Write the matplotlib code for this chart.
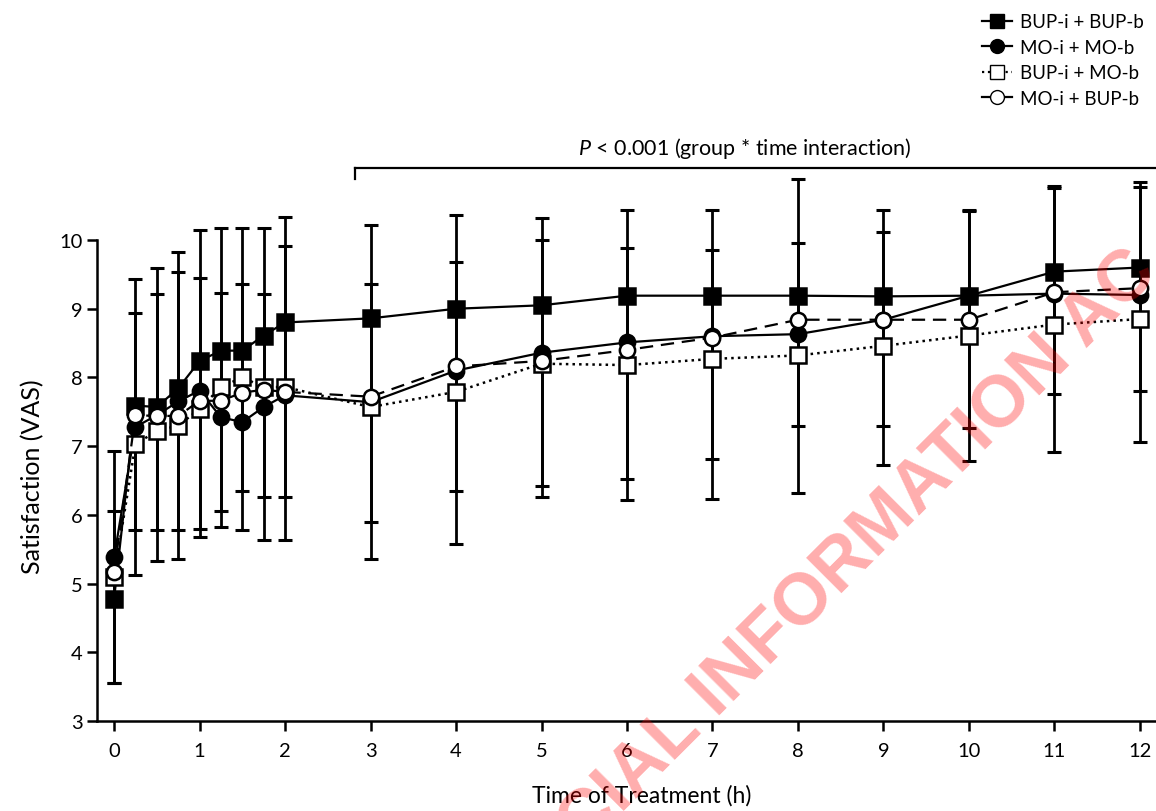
import matplotlib
matplotlib.use('Agg')
import numpy as np
import matplotlib.pyplot as plt
from matplotlib.lines import Line2D

plt.rcParams['font.family'] = ['Lato', 'DejaVu Sans']
plt.rcParams['mathtext.fontset'] = 'custom'
plt.rcParams['mathtext.rm'] = 'Lato'
plt.rcParams['mathtext.it'] = 'Lato:italic'

# Tempo de tratamento (h)
times = [0, 0.25, 0.5, 0.75, 1, 1.25, 1.5, 1.75, 2, 3, 4, 5, 6, 7, 8, 9, 10, 11, 12]

# Médias de satisfação (VAS) por grupo
bup_bup = [4.78, 7.59, 7.57, 7.84, 8.24, 8.39, 8.39, 8.61, 8.80, 8.86, 9.00, 9.05, 9.19, 9.19, 9.19, 9.18, 9.19, 9.54, 9.60]
mo_mo = [5.38, 7.28, 7.45, 7.65, 7.81, 7.42, 7.35, 7.57, 7.74, 7.64, 8.10, 8.36, 8.51, 8.60, 8.63, 8.84, 9.19, 9.22, 9.20]
bup_mo = [5.10, 7.03, 7.22, 7.30, 7.54, 7.86, 8.00, 7.86, 7.86, 7.57, 7.79, 8.20, 8.18, 8.27, 8.32, 8.46, 8.61, 8.77, 8.85]
mo_bup = [5.17, 7.45, 7.44, 7.44, 7.66, 7.66, 7.78, 7.82, 7.79, 7.72, 8.16, 8.24, 8.40, 8.58, 8.84, 8.84, 8.84, 9.24, 9.30]

# Limites das barras de erro (valores absolutos)
cap_hi_outer = [6.93, 9.44, 9.60, 9.83, 10.15, 10.18, 10.18, 10.18, 10.33, 10.22, 10.36, 10.32, 10.43, 10.43, 10.89, 10.43, 10.44, 10.79, 10.84]
cap_hi_inner = [6.05, 8.94, 9.21, 9.54, 9.45, 9.23, 9.36, 9.21, 9.92, 9.36, 9.68, 10.00, 9.88, 9.86, 9.95, 10.11, 10.42, 10.76, 10.77]
cap_lo_inner = [3.55, 5.78, 5.78, 5.78, 5.79, 6.06, 6.35, 6.26, 6.26, 5.90, 6.35, 6.42, 6.52, 6.81, 7.30, 7.30, 7.27, 7.76, 7.81]
cap_lo_outer = [3.55, 5.12, 5.33, 5.36, 5.68, 5.83, 5.78, 5.64, 5.64, 5.36, 5.58, 6.26, 6.21, 6.23, 6.32, 6.72, 6.79, 6.91, 7.06]

labels = ['BUP-i + BUP-b', 'MO-i + MO-b', 'BUP-i + MO-b', 'MO-i + BUP-b']
x_ticks = list(range(0, 13))
y_ticks = list(range(3, 11))

fig = plt.figure(figsize=(11.56, 8.12), dpi=100)
ax = fig.add_axes([97 / 1156, 90 / 812, 1060 / 1156, 570.3 / 812])

ref = np.array(bup_bup)
for lo, hi in [(cap_lo_outer, cap_hi_outer), (cap_lo_inner, cap_hi_inner)]:
    ax.errorbar(times, ref, yerr=[ref - np.array(lo), np.array(hi) - ref], fmt='none',
                ecolor='black', elinewidth=2.0, capsize=4.8, capthick=2.2, zorder=2)

estilo = dict(color='black', markersize=11, markeredgewidth=1.8, markeredgecolor='black', zorder=3)
ax.plot(times, bup_bup, '-', marker='s', markerfacecolor='black', linewidth=1.6, **estilo)
ax.plot(times, mo_mo, '-', marker='o', markerfacecolor='black', linewidth=1.6, **estilo)
ax.plot(times, bup_mo, ':', marker='s', markerfacecolor='white', linewidth=1.8, **estilo)
ax.plot(times, mo_bup, '--', marker='o', markerfacecolor='white', linewidth=1.6, dashes=(6, 3.5), **estilo)

ax.set_xlim(-0.2, 12.2)
ax.set_ylim(3, 11.3)
ax.set_xticks(x_ticks)
ax.set_yticks(y_ticks)
ax.spines['top'].set_visible(False)
ax.spines['right'].set_visible(False)
ax.spines['left'].set_bounds(3, 10)
for s in ['left', 'bottom']:
    ax.spines[s].set_linewidth(1.8)
ax.tick_params(axis='both', width=1.8, length=7, labelsize=14.5, direction='out')
ax.tick_params(axis='x', pad=8)
ax.set_xlabel('Time of Treatment (h)', fontsize=16.5)
ax.set_ylabel('Satisfaction (VAS)', fontsize=18)
ax.xaxis.set_label_coords(0.514, -0.111)
ax.yaxis.set_label_coords(-0.050, 0.431)

# Colchete da interação
ax.plot([2.82, 12.6], [11.05, 11.05], color='black', linewidth=1.6, clip_on=False)
ax.plot([2.82, 2.82], [11.05, 10.89], color='black', linewidth=1.6, clip_on=False)
ax.text(7.38, 11.25, '$P$ < 0.001 (group * time interaction)', fontsize=15.5,
        ha='center', va='baseline')

handles = [
    Line2D([], [], color='black', linestyle='-', marker='s', markerfacecolor='black', markersize=10, linewidth=1.6),
    Line2D([], [], color='black', linestyle='-', marker='o', markerfacecolor='black', markersize=10, linewidth=1.6),
    Line2D([], [], color='black', linestyle=':', marker='s', markerfacecolor='white', markersize=10, linewidth=1.6),
    Line2D([], [], color='black', linestyle='-', marker='o', markerfacecolor='white', markersize=10, linewidth=1.6),
]
fig.legend(handles, labels, loc='upper right', bbox_to_anchor=(1153 / 1156, 1 - 5 / 812),
           frameon=False, fontsize=13.5, handlelength=1.6, handletextpad=0.4,
           labelspacing=0.45, borderpad=0)

# Marca d'água
fig.text(0.505, -0.048, 'CIAL INFORMATION AC', rotation=45, rotation_mode='anchor',
         ha='left', va='baseline', fontsize=52, fontweight='bold', family='Liberation Sans',
         color='red', alpha=0.32, zorder=10)

plt.savefig('out.png', dpi=100)
